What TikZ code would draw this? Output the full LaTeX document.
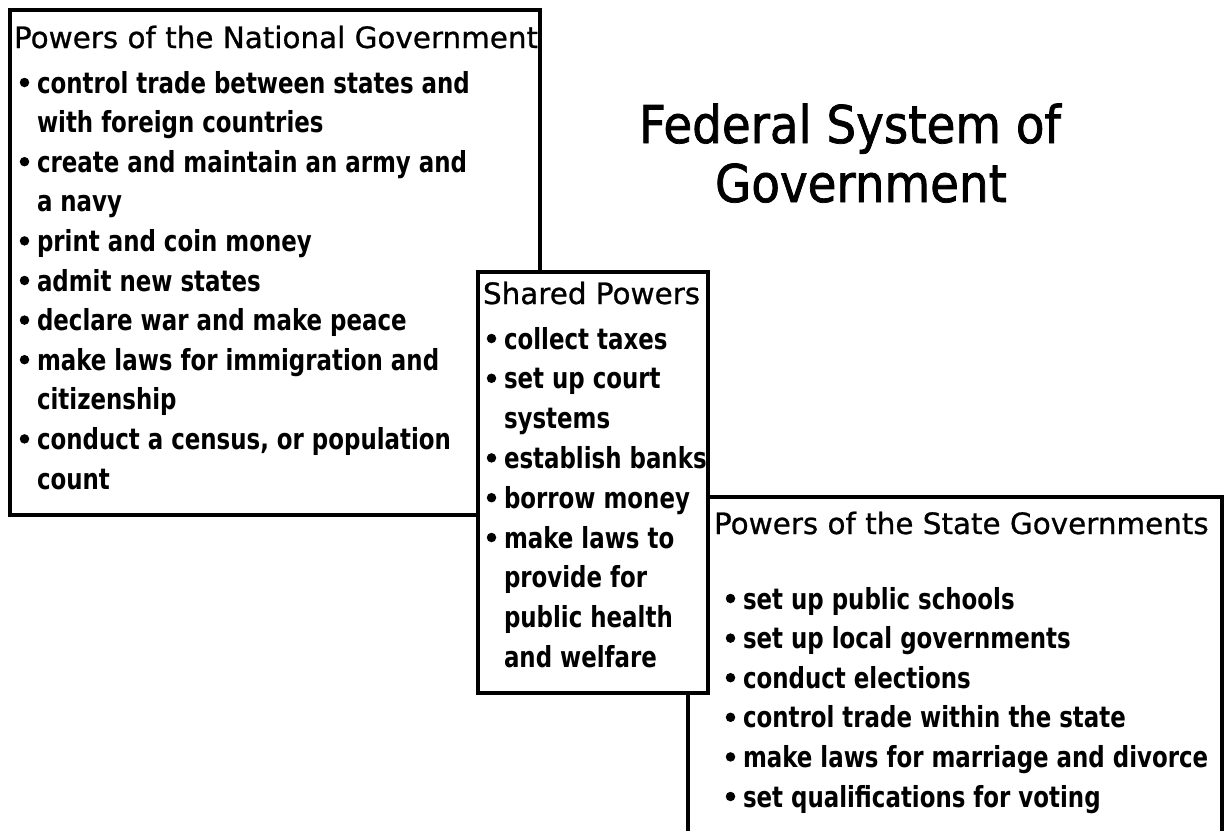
\documentclass[tikz,border=0pt]{standalone}
\usepackage{fontspec}
\setmainfont{DejaVu Sans}
\newfontfamily\headfont{DejaVu Sans}[FakeBold=0.8]
\newfontfamily\itemfont{DejaVu Sans}[FakeStretch=0.79]
\newfontfamily\titlefont{DejaVu Sans}[FakeStretch=0.9, FakeBold=1.4]
\begin{document}
\begin{tikzpicture}[x=1pt,y=-1pt,
  panel/.style={draw=black, line width=4.5pt, fill=white, rectangle,
    inner sep=0pt, outer sep=0pt, anchor=north west},
  head/.style={anchor=base west, inner sep=0pt, outer sep=0pt,
    font=\headfont\fontsize{29.4}{35}\selectfont},
  entry/.style={anchor=base west, inner sep=0pt, outer sep=0pt,
    font=\itemfont\bfseries\fontsize{29}{33}\selectfont},
  titletext/.style={anchor=base, inner sep=0pt, outer sep=0pt,
    font=\titlefont\fontsize{52}{58}\selectfont},
  dot/.style={circle, fill=black, inner sep=0pt, minimum size=9.5pt}
]
\newcommand{\listdot}[2]{\node[dot] (#1) at ([xshift=-12.5pt,yshift=10.5pt]#2.base west) {};}
\useasboundingbox (0,0) rectangle (1225,830);
\fill[white] (0,0) rectangle (1225,830);

% title
\node[titletext] (t1) at (850,143) {Federal System of};
\node[titletext] (t2) at (861,202) {Government};

% national government
\node[panel, minimum width=530pt, minimum height=505pt] (natbox) at (10,10) {};
\node[head] (nh) at (14,48) {Powers of the National Government};
\node[entry] (n0) at (37,93) {control trade between states and};
\node[entry] (n1) at (37,132.6) {with foreign countries};
\node[entry] (n2) at (37,172.2) {create and maintain an army and};
\node[entry] (n3) at (37,211.8) {a navy};
\node[entry] (n4) at (37,251.4) {print and coin money};
\node[entry] (n5) at (37,291) {admit new states};
\node[entry] (n6) at (37,330.6) {declare war and make peace};
\node[entry] (n7) at (37,370.2) {make laws for immigration and};
\node[entry] (n8) at (37,409.8) {citizenship};
\node[entry] (n9) at (37,449.4) {conduct a census, or population};
\node[entry] (n10) at (37,489) {count};
\listdot{nb0}{n0}
\listdot{nb2}{n2}
\listdot{nb4}{n4}
\listdot{nb5}{n5}
\listdot{nb6}{n6}
\listdot{nb7}{n7}
\listdot{nb9}{n9}

% state governments
\node[panel, minimum width=534pt, minimum height=360pt] (stbox) at (688,497) {};
\node[head] (sth) at (714,534) {Powers of the State Governments};
\node[entry] (s0) at (743,609) {set up public schools};
\node[entry] (s1) at (743,648.6) {set up local governments};
\node[entry] (s2) at (743,688.2) {conduct elections};
\node[entry] (s3) at (743,727.8) {control trade within the state};
\node[entry] (s4) at (743,767.4) {make laws for marriage and divorce};
\node[entry] (s5) at (743,807) {set qualifications for voting};
\listdot{sb0}{s0}
\listdot{sb1}{s1}
\listdot{sb2}{s2}
\listdot{sb3}{s3}
\listdot{sb4}{s4}
\listdot{sb5}{s5}

% shared powers, on top of both
\node[panel, minimum width=230pt, minimum height=421pt] (shbox) at (478,272) {};
\node[head] (shh) at (483,304) {Shared Powers};
\node[entry] (p0) at (504,349) {collect taxes};
\node[entry] (p1) at (504,388.8) {set up court};
\node[entry] (p2) at (504,428.6) {systems};
\node[entry] (p3) at (504,468.4) {establish banks};
\node[entry] (p4) at (504,508.2) {borrow money};
\node[entry] (p5) at (504,548) {make laws to};
\node[entry] (p6) at (504,587.8) {provide for};
\node[entry] (p7) at (504,627.6) {public health};
\node[entry] (p8) at (504,667.4) {and welfare};
\listdot{pb0}{p0}
\listdot{pb1}{p1}
\listdot{pb3}{p3}
\listdot{pb4}{p4}
\listdot{pb5}{p5}
\end{tikzpicture}
\end{document}
